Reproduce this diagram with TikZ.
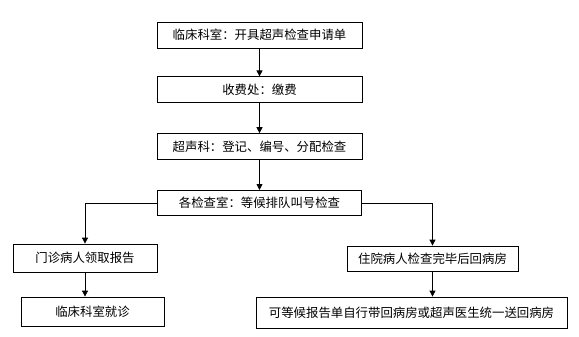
\documentclass[tikz,border=0pt]{standalone}
\usepackage{fontspec}
\setmainfont{Noto Sans CJK SC}
\usetikzlibrary{arrows.meta, positioning}

\begin{document}
\begin{tikzpicture}[
  x=1pt, y=-1pt,
  box/.style={rectangle, draw=black, line width=0.8pt, inner sep=0pt, font=\fontsize{12.4}{15}\selectfont},
  arr/.style={draw=black, line width=0.8pt, -{Triangle[width=6pt,length=6pt]}},
  node distance=28pt
]
\useasboundingbox[fill=white] (0,0) rectangle (579,337);
% main column
\node[box, minimum width=205pt, minimum height=26pt] (clinic) at (259.5,35) {临床科室：开具超声检查申请单};
\node[box, minimum width=205pt, minimum height=26pt, below=of clinic] (fee) {收费处：缴费};
\node[box, minimum width=205pt, minimum height=26pt, below=30pt of fee] (usdept) {超声科：登记、编号、分配检查};
\node[box, minimum width=204pt, minimum height=25pt, below=30pt of usdept] (room) {各检查室：等候排队叫号检查};
% left branch
\node[box, minimum width=144pt, minimum height=28pt] (outpat) at (85,258) {门诊病人领取报告};
\node[box, minimum width=143pt, minimum height=29pt] (visit) at (92.5,311.5) {临床科室就诊};
% right branch
\node[box, minimum width=171pt, minimum height=25pt] (inpat) at (432.5,258.5) {住院病人检查完毕后回病房};
\node[box, minimum width=311pt, minimum height=31pt] (ward) at (411.5,312.5) {可等候报告单自行带回病房或超声医生统一送回病房};

\draw[arr] (clinic) -- (fee);
\draw[arr] (fee) -- (usdept);
\draw[arr] (usdept) -- (room);
\draw[arr] (room.west) -| (outpat.north);
\draw[arr] (room.east) -| (inpat.north);
\draw[arr] (outpat.south) -- (outpat.south |- visit.north);
\draw[arr] (inpat.south) -- (inpat.south |- ward.north);
\end{tikzpicture}
\end{document}
